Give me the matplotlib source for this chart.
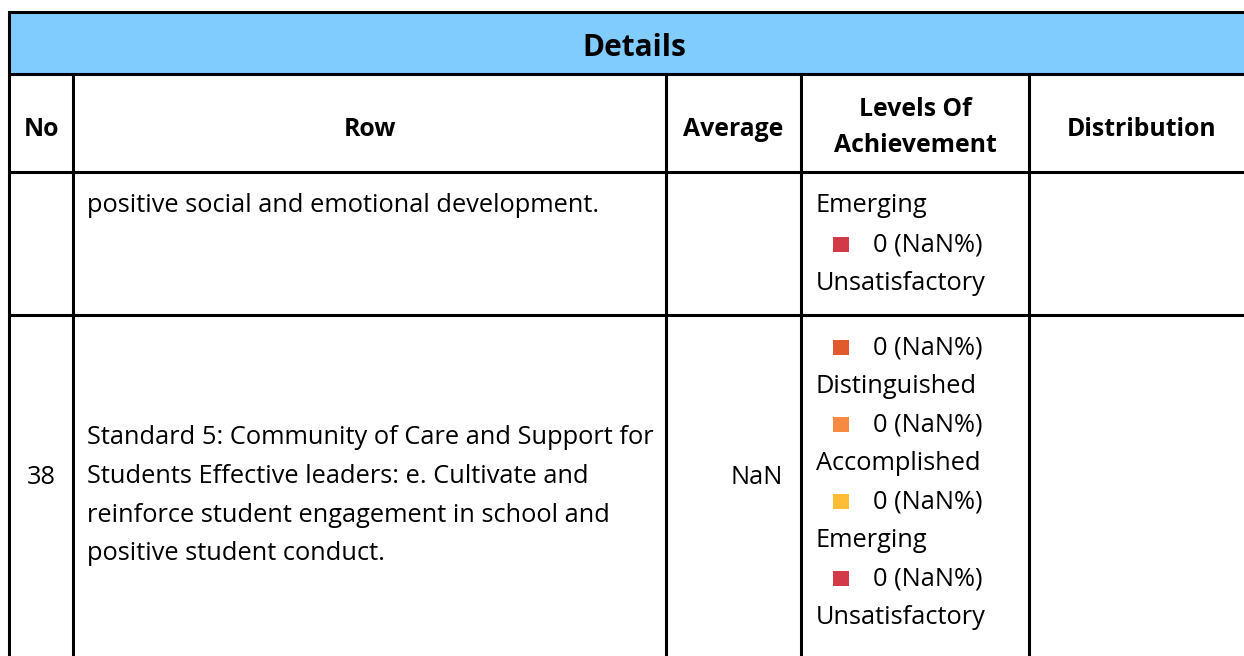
import matplotlib
matplotlib.use("Agg")
import matplotlib.pyplot as plt
from matplotlib.patches import Rectangle

plt.rcParams["font.family"] = ["Open Sans", "DejaVu Sans"]

# contenu du tableau
titre = "Details"
entetes = ["No", "Row", "Average", ["Levels Of", "Achievement"], "Distribution"]

ligne1_texte = ["positive social and emotional development."]
ligne1_niveaux = ["Emerging", "0 (NaN%)", "Unsatisfactory"]
ligne1_couleurs = [None, "#D23A48", None]

ligne2_no = "38"
ligne2_texte = ["Standard 5: Community of Care and Support for",
                "Students Effective leaders: e. Cultivate and",
                "reinforce student engagement in school and",
                "positive student conduct."]
ligne2_moyenne = "NaN"
ligne2_niveaux = ["0 (NaN%)", "Distinguished", "0 (NaN%)", "Accomplished",
                  "0 (NaN%)", "Emerging", "0 (NaN%)", "Unsatisfactory"]
ligne2_couleurs = ["#E05A2B", None, "#F68A40", None, "#FFBD35", None, "#D23A48", None]

# mise en page (pixels)
W, H = 1244, 656
cols = [9, 73, 666, 801, 1029, 1254]
y_haut, y_bandeau, y_entete, y_l1 = 12, 74, 172, 315
interligne = 38.5
taille = 18.3
taille_entete = 17.8

fig = plt.figure(figsize=(W / 100, H / 100), dpi=100)
ax = fig.add_axes([0, 0, 1, 1])
ax.set_xlim(0, W)
ax.set_ylim(H, 0)
ax.axis("off")

# bandeau bleu
ax.add_patch(Rectangle((cols[0], y_haut), cols[-1] - cols[0], y_bandeau - y_haut,
                       facecolor="#80CCFF", edgecolor="none"))
ax.text(634, (y_haut + y_bandeau) / 2 + 5, titre,
        fontsize=21.5, fontweight="bold", ha="center", va="center")

# lignes du tableau
lw = 2.2
for y in [y_haut, y_bandeau, y_entete, y_l1]:
    ax.plot([cols[0], cols[-1]], [y, y], color="black", lw=lw, solid_capstyle="butt")
ax.plot([cols[0], cols[0]], [y_haut, H], color="black", lw=lw)
for x in cols[1:-1]:
    ax.plot([x, x], [y_bandeau, H], color="black", lw=lw)

# entêtes
for i, t in enumerate(entetes):
    lignes = t if isinstance(t, list) else [t]
    yc = (y_bandeau + y_entete) / 2 + (4 if len(lignes) > 1 else 6)
    for k, s in enumerate(lignes):
        y = yc + (k - (len(lignes) - 1) / 2) * 36
        ax.text((cols[i] + cols[i + 1]) / 2, y, s, fontsize=taille_entete,
                fontweight="bold", ha="center", va="center")


def niveaux(liste, couleurs, y0):
    for k, (t, c) in enumerate(zip(liste, couleurs)):
        y = y0 + k * interligne
        if c is not None:
            ax.add_patch(Rectangle((833, y - 8), 16, 15, facecolor=c, edgecolor="none"))
            ax.text(873, y, t, fontsize=taille, va="center")
        else:
            ax.text(816, y, t, fontsize=taille, va="center")


def paragraphe(lignes, y0):
    for k, s in enumerate(lignes):
        ax.text(87, y0 + k * interligne, s, fontsize=taille, va="center")


# ligne 1 (suite)
paragraphe(ligne1_texte, 206)
niveaux(ligne1_niveaux, ligne1_couleurs, 206)

# ligne 2
ax.text((cols[0] + cols[1]) / 2, 477, ligne2_no, fontsize=taille, ha="center", va="center")
paragraphe(ligne2_texte, 438)
ax.text(cols[3] - 18, 477, ligne2_moyenne, fontsize=taille, ha="right", va="center")
niveaux(ligne2_niveaux, ligne2_couleurs, 348)

fig.savefig("out.png", dpi=100, facecolor="white")
